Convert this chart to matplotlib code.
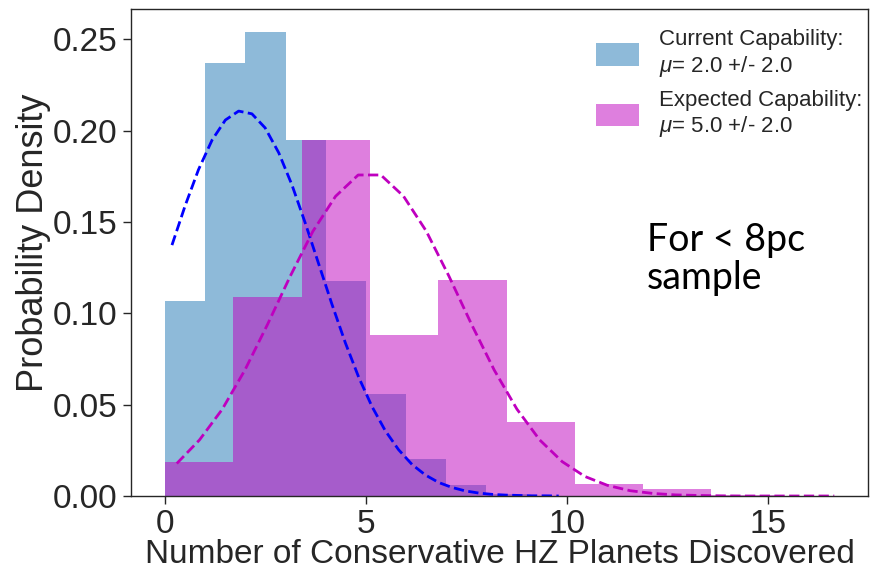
import matplotlib.pyplot as plt
import seaborn as sns
import numpy as np

sns.set_style('ticks')
plt.rcParams['font.family'] = ['Liberation Sans', 'DejaVu Sans']
plt.rcParams['mathtext.fontset'] = 'custom'
plt.rcParams['mathtext.it'] = 'Liberation Sans:italic'
plt.rcParams['mathtext.rm'] = 'Liberation Sans'

# histogram of the current capability sample (density, unit bins)
cur_edges = [0, 1, 2, 3, 4, 5, 6, 7, 8, 9]
cur_density = [0.107, 0.237, 0.254, 0.195, 0.118, 0.056, 0.020, 0.006, 0.001]

# histogram of the expected capability sample
exp_edges = [0, 1.7, 3.4, 5.1, 6.8, 8.5, 10.2, 11.9, 13.6, 15.3, 17.0]
exp_density = [0.0187, 0.109, 0.195, 0.088, 0.1185, 0.0406, 0.0064, 0.0038, 0.0006, 0.0]

# fitted curves
cur_fit_x = [0.17, 0.50, 0.83, 1.17, 1.50, 1.83, 2.16, 2.49, 2.83, 3.16,
             3.49, 3.82, 4.15, 4.49, 4.82, 5.15, 5.48, 5.81, 6.15, 6.48,
             6.81, 7.14, 7.47, 7.81, 8.14, 8.47, 8.80, 9.13, 9.47, 9.80]
cur_fit_y = [0.1374, 0.1591, 0.1787, 0.1950, 0.2059, 0.2108, 0.2093, 0.2016, 0.1879, 0.1702,
             0.1494, 0.1273, 0.1052, 0.0837, 0.0650, 0.0490, 0.0358, 0.0254, 0.0172, 0.0115,
             0.0074, 0.0047, 0.0028, 0.0016, 0.0009, 0.0005, 0.0003, 0.0001, 0.0001, 0.0000]
exp_fit_x = [0.29, 0.855, 1.419, 1.984, 2.548, 3.113, 3.677, 4.242, 4.806, 5.371,
             5.935, 6.500, 7.064, 7.629, 8.193, 8.758, 9.322, 9.887, 10.451, 11.016,
             11.580, 12.145, 12.709, 13.274, 13.838, 14.403, 14.967, 15.532, 16.096, 16.66]
exp_fit_y = [0.0178, 0.0307, 0.0474, 0.0689, 0.0939, 0.1203, 0.1449, 0.1641, 0.1758, 0.1758,
             0.1642, 0.1451, 0.1205, 0.0940, 0.0690, 0.0476, 0.0308, 0.0188, 0.0107, 0.0058,
             0.0029, 0.0014, 0.0006, 0.0003, 0.0001, 0.0000, 0.0000, 0.0000, 0.0000, 0.0000]

labels = ['Current Capability:\n$\\mu$= 2.0 +/- 2.0',
          'Expected Capability:\n$\\mu$= 5.0 +/- 2.0']

fig = plt.figure(figsize=(8.75, 5.7), dpi=100)
ax = fig.add_axes([131 / 875, 1 - 496 / 570, (868 - 131) / 875, (496 - 9) / 570])

ax.stairs(cur_density, cur_edges, fill=True, color='C0', alpha=0.5, linewidth=0, label=labels[0])
ax.stairs(exp_density, exp_edges, fill=True, color='m', alpha=0.5, linewidth=0, label=labels[1])
ax.plot(cur_fit_x, cur_fit_y, '--', color='b', linewidth=2)
ax.plot(exp_fit_x, exp_fit_y, '--', color='m', linewidth=2)

ax.set_xlim(-0.85, 17.5)
ax.set_ylim(0, 0.2667)
ax.set_xticks([0, 5, 10, 15])
ax.set_yticks(np.arange(0, 0.26, 0.05))
ax.yaxis.set_major_formatter(plt.FormatStrFormatter('%.2f'))
ax.tick_params(labelsize=24, length=6, width=1, colors='.15')
for s in ax.spines.values():
    s.set_color('.15')
    s.set_linewidth(1)

ax.set_xlabel('Number of Conservative HZ Planets Discovered', fontsize=24, color='.15', labelpad=-1)
ax.set_ylabel('Probability Density', fontsize=26, color='.15')
ax.yaxis.set_label_coords(-0.108, 0.52)

ax.legend(loc='upper right', bbox_to_anchor=(1.019, 1.0), frameon=False, fontsize=16,
          handlelength=1.9, handleheight=1.2, handletextpad=0.9, labelspacing=0.5)

ax.text(12.0, 0.1135, 'For < 8pc\nsample', fontsize=27, family=['Lato', 'DejaVu Sans'],
        color='black', ha='left', va='baseline', linespacing=1.05)

fig.savefig('out.png', dpi=100)
